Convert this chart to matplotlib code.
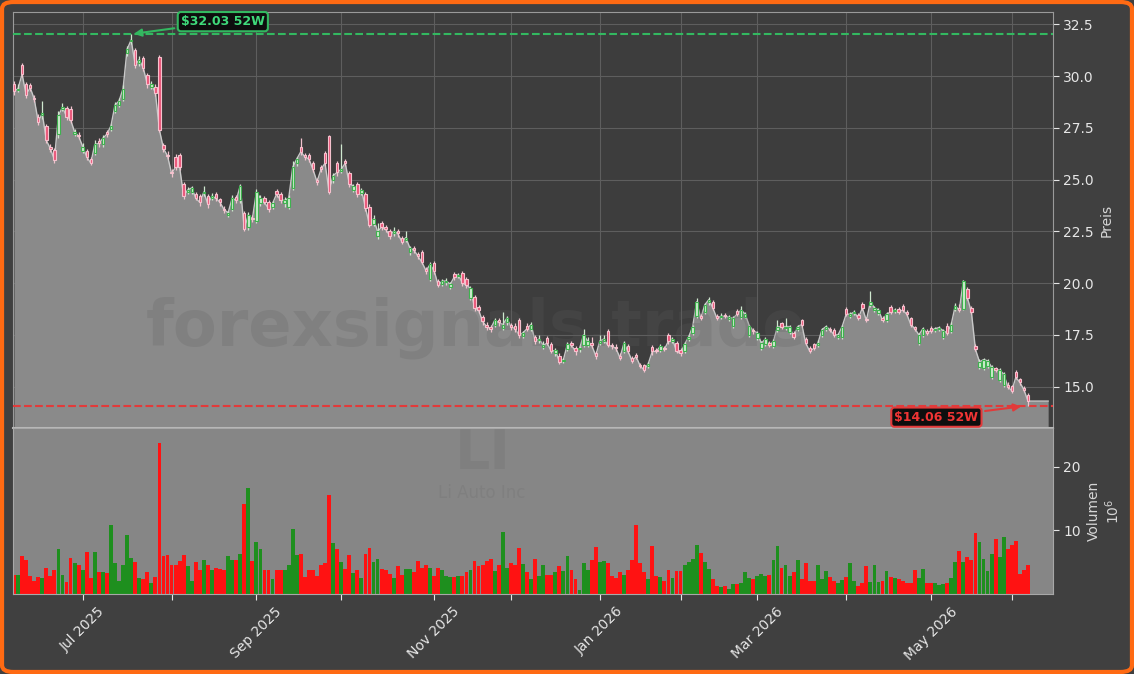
import numpy as np
import pandas as pd
import matplotlib
matplotlib.use("Agg")
import matplotlib.pyplot as plt
from matplotlib.patches import FancyBboxPatch
from matplotlib.ticker import MultipleLocator, FormatStrFormatter, MaxNLocator, FixedLocator, FixedFormatter

# LI (Li Auto Inc) - daily candles, ~1 year
opens = [29.6, 29.35, 30.55, 29.6, 29.55, 28.95, 28.05, 28.1, 27.6, 26.6,
         26.45, 27.2, 28.4, 28.45, 28.4, 27.2, 27.15, 26.4, 26.4, 26.0,
         26.3, 26.85, 26.7, 27.3, 27.45, 28.3, 28.6, 28.9, 31.1, 31.7,
         31.26, 30.65, 30.86, 30.06, 29.5, 29.5, 30.94, 26.65, 26.2, 25.35,
         26.1, 26.2, 24.8, 24.4, 24.4, 24.3, 24.2, 24.35, 24.2, 24.1,
         24.3, 24.05, 23.6, 23.3, 23.6, 24.15, 24.0, 23.4, 22.7, 23.15,
         23.0, 23.85, 24.1, 23.9, 23.7, 24.45, 24.3, 23.85, 23.7, 24.6,
         25.8, 26.6, 26.2, 26.2, 25.8, 25.0, 25.6, 26.3, 27.1, 24.98,
         25.8, 25.4, 25.9, 25.3, 24.5, 24.8, 24.35, 24.3, 23.7, 22.85,
         22.3, 22.9, 22.7, 22.5, 22.4, 22.5, 22.2, 22.1, 21.5, 21.7,
         21.4, 21.5, 20.7, 20.2, 20.95, 20.1, 19.95, 20.05, 19.8, 20.45,
         20.35, 20.5, 20.2, 19.3, 19.35, 18.85, 18.35, 18.0, 17.9, 18.0,
         18.2, 17.85, 18.1, 18.0, 17.95, 18.2, 17.45, 17.95, 17.8, 17.4,
         17.25, 16.9, 17.35, 17.05, 16.6, 16.5, 16.25, 16.8, 17.1, 16.85,
         16.8, 17.0, 17.0, 17.1, 16.6, 17.1, 17.2, 17.7, 17.0, 16.9,
         16.5, 16.7, 16.95, 16.4, 16.55, 16.05, 16.05, 16.0, 16.9, 16.75,
         16.75, 16.85, 17.5, 17.2, 17.1, 16.75, 16.7, 17.3, 17.6, 18.4,
         18.4, 18.6, 19.1, 19.1, 18.4, 18.35, 18.45, 18.25, 17.95, 18.65,
         18.35, 18.35, 17.5, 17.75, 17.35, 16.85, 17.05, 17.1, 16.95, 17.75,
         18.05, 17.85, 17.65, 17.6, 17.8, 18.2, 17.3, 16.85, 17.05, 17.0,
         17.5, 17.8, 17.8, 17.75, 17.4, 17.4, 18.75, 18.4, 18.55, 18.45,
         19.0, 18.25, 18.95, 18.7, 18.55, 18.3, 18.2, 18.85, 18.65, 18.75,
         18.9, 18.6, 18.3, 17.9, 17.1, 17.5, 17.7, 17.85, 17.75, 17.8,
         17.4, 17.95, 17.7, 18.75, 18.8, 18.75, 19.7, 18.8, 16.95, 15.95,
         15.9, 16.0, 15.45, 15.9, 15.3, 15.1, 15.1, 15.05, 15.7, 15.35,
         14.95, 14.6]

highs = [29.75, 29.6, 30.65, 29.7, 29.65, 29.1, 28.15, 28.8, 27.7, 26.7,
         26.55, 28.3, 28.7, 28.55, 28.55, 27.45, 27.3, 26.75, 26.5, 26.1,
         26.9, 27.0, 27.15, 27.4, 27.7, 28.75, 28.95, 29.55, 31.45, 32.03,
         31.35, 30.95, 30.95, 30.15, 29.75, 29.6, 31.0, 26.75, 26.4, 25.5,
         26.25, 26.3, 24.9, 24.65, 24.7, 24.4, 24.3, 24.7, 24.3, 24.35,
         24.4, 24.1, 23.75, 23.5, 24.25, 24.25, 24.8, 23.5, 23.45, 23.3,
         24.55, 24.25, 24.2, 24.0, 23.95, 24.55, 24.4, 24.15, 24.25, 25.9,
         26.1, 27.0, 26.3, 26.3, 25.9, 25.1, 25.7, 26.4, 27.15, 25.3,
         25.9, 26.7, 26.0, 25.4, 24.8, 24.9, 24.6, 24.4, 23.8, 23.3,
         22.9, 23.0, 22.8, 22.6, 22.7, 22.6, 22.3, 22.5, 21.8, 21.8,
         21.5, 21.6, 20.8, 21.0, 21.05, 20.2, 20.2, 20.25, 20.05, 20.55,
         20.5, 20.6, 20.3, 19.85, 19.45, 18.95, 18.45, 18.1, 18.0, 18.3,
         18.3, 18.6, 18.4, 18.05, 18.05, 18.3, 17.7, 18.05, 18.1, 17.5,
         17.5, 17.2, 17.45, 17.15, 16.85, 16.6, 16.4, 17.15, 17.2, 16.95,
         16.95, 17.8, 17.4, 17.4, 16.7, 17.5, 17.5, 17.8, 17.1, 17.05,
         16.6, 17.2, 17.05, 16.5, 16.6, 16.15, 16.1, 16.2, 17.0, 16.85,
         17.05, 16.95, 17.6, 17.4, 17.2, 16.85, 17.15, 17.5, 18.0, 19.3,
         18.5, 19.05, 19.35, 19.2, 18.5, 18.55, 18.55, 18.45, 18.4, 18.75,
         18.9, 18.6, 18.0, 17.85, 17.7, 17.2, 17.4, 17.2, 17.3, 18.2,
         18.1, 18.3, 18.0, 17.7, 18.0, 18.25, 17.4, 16.95, 17.1, 17.25,
         17.85, 18.0, 17.9, 17.85, 17.6, 18.0, 18.85, 18.6, 18.7, 18.55,
         19.1, 18.35, 19.6, 18.9, 18.8, 18.4, 18.6, 18.95, 18.8, 18.85,
         19.0, 18.7, 18.35, 17.95, 17.6, 17.9, 17.8, 17.95, 17.9, 17.95,
         17.8, 18.05, 18.1, 19.05, 19.0, 20.15, 19.8, 18.9, 17.05, 16.35,
         16.4, 16.35, 16.05, 15.95, 15.9, 15.7, 15.2, 15.1, 15.8, 15.4,
         15.05, 14.7]

lows = [29.1, 29.25, 29.95, 28.95, 29.3, 28.75, 27.65, 27.95, 26.75, 26.35,
        25.8, 27.0, 28.3, 27.9, 27.75, 27.1, 26.95, 26.3, 25.95, 25.7,
        26.2, 26.6, 26.6, 27.05, 27.35, 28.2, 28.5, 28.8, 30.95, 31.55,
        30.4, 30.5, 30.25, 29.45, 29.4, 29.05, 27.3, 26.35, 26.0, 25.15,
        25.45, 25.45, 24.05, 24.3, 24.3, 24.0, 23.75, 24.2, 23.65, 24.0,
        23.95, 23.75, 23.4, 23.2, 23.5, 23.85, 23.85, 22.5, 22.55, 22.95,
        22.9, 23.75, 23.8, 23.45, 23.6, 24.15, 23.85, 23.7, 23.6, 24.5,
        25.65, 26.2, 25.95, 25.85, 25.35, 24.75, 25.35, 25.65, 24.3, 24.85,
        25.2, 25.3, 25.65, 24.65, 24.4, 24.15, 24.25, 23.5, 22.7, 22.75,
        22.15, 22.55, 22.45, 22.15, 22.3, 22.25, 21.9, 22.0, 21.35, 21.45,
        21.15, 20.9, 20.45, 20.1, 20.45, 19.8, 19.85, 19.9, 19.7, 20.15,
        20.25, 19.85, 19.75, 19.2, 18.65, 18.55, 18.0, 17.75, 17.65, 17.9,
        17.95, 17.75, 18.0, 17.75, 17.65, 17.35, 17.35, 17.7, 17.7, 17.05,
        17.1, 16.8, 17.0, 16.6, 16.5, 16.1, 16.15, 16.7, 16.9, 16.55,
        16.65, 16.9, 16.9, 16.85, 16.35, 17.0, 17.1, 16.9, 16.8, 16.7,
        16.3, 16.6, 16.6, 16.15, 16.35, 15.9, 15.7, 15.9, 16.55, 16.6,
        16.65, 16.7, 17.05, 17.1, 16.6, 16.5, 16.6, 17.2, 17.5, 18.3,
        18.2, 18.5, 18.95, 18.7, 18.2, 18.25, 18.3, 18.15, 17.85, 18.4,
        18.25, 18.3, 17.4, 17.55, 17.25, 16.75, 16.95, 16.9, 16.85, 17.65,
        17.8, 17.75, 17.55, 17.3, 17.7, 17.9, 17.0, 16.6, 16.75, 16.9,
        17.4, 17.7, 17.65, 17.4, 17.3, 17.3, 18.4, 18.3, 18.45, 18.2,
        18.7, 18.1, 18.85, 18.6, 18.45, 18.1, 18.1, 18.5, 18.55, 18.5,
        18.6, 18.4, 17.9, 17.7, 17.0, 17.4, 17.5, 17.6, 17.65, 17.7,
        17.3, 17.5, 17.6, 18.65, 18.6, 18.7, 19.2, 18.5, 16.7, 15.85,
        15.8, 15.9, 15.35, 15.7, 15.2, 15.0, 14.9, 14.7, 15.35, 15.1,
        14.75, 14.06]

closes = [29.26, 29.4, 30.1, 29.1, 29.45, 28.9, 27.8, 28.2, 26.9, 26.5,
          25.96, 28.1, 28.5, 28.05, 27.9, 27.3, 27.1, 26.6, 26.1, 25.8,
          26.7, 26.75, 27.0, 27.2, 27.6, 28.6, 28.8, 29.4, 31.3, 31.75,
          30.54, 30.8, 30.4, 29.6, 29.6, 29.2, 27.4, 26.5, 26.15, 25.3,
          25.6, 25.6, 24.2, 24.5, 24.6, 24.1, 23.9, 24.4, 23.8, 24.2,
          24.1, 23.9, 23.55, 23.4, 24.1, 24.0, 24.7, 22.6, 23.3, 23.1,
          24.4, 24.1, 23.9, 23.6, 23.85, 24.3, 24.0, 24.0, 24.1, 25.6,
          26.0, 26.35, 26.1, 26.0, 25.5, 24.9, 25.5, 25.8, 24.4, 25.2,
          25.35, 25.5, 25.8, 24.8, 24.7, 24.3, 24.5, 23.65, 22.8, 23.1,
          22.5, 22.7, 22.6, 22.3, 22.5, 22.4, 22.0, 22.2, 21.7, 21.6,
          21.3, 21.0, 20.6, 20.9, 20.6, 19.9, 20.1, 20.1, 19.95, 20.3,
          20.4, 20.0, 19.9, 19.75, 18.8, 18.7, 18.15, 17.9, 17.8, 18.2,
          18.1, 18.0, 18.3, 17.9, 17.8, 17.5, 17.6, 17.8, 18.0, 17.2,
          17.3, 17.0, 17.1, 16.7, 16.75, 16.2, 16.3, 17.05, 17.0, 16.7,
          16.85, 17.5, 17.2, 17.0, 16.5, 17.2, 17.3, 17.0, 16.95, 16.85,
          16.4, 17.1, 16.7, 16.25, 16.45, 16.0, 15.8, 16.1, 16.7, 16.7,
          16.95, 16.8, 17.2, 17.3, 16.7, 16.6, 17.05, 17.4, 17.9, 19.1,
          18.3, 18.95, 19.2, 18.8, 18.3, 18.4, 18.4, 18.35, 18.3, 18.5,
          18.7, 18.5, 17.95, 17.7, 17.6, 17.1, 17.3, 17.0, 17.2, 17.9,
          17.9, 17.9, 17.9, 17.4, 17.9, 18.0, 17.1, 16.7, 16.85, 17.1,
          17.75, 17.9, 17.75, 17.5, 17.5, 17.9, 18.5, 18.5, 18.6, 18.3,
          18.8, 18.2, 19.1, 18.8, 18.7, 18.2, 18.5, 18.6, 18.7, 18.6,
          18.7, 18.5, 18.0, 17.8, 17.5, 17.8, 17.6, 17.7, 17.8, 17.85,
          17.7, 17.6, 18.0, 18.9, 18.7, 20.1, 19.3, 18.6, 16.8, 16.2,
          16.3, 16.25, 15.95, 15.8, 15.8, 15.6, 15.0, 14.8, 15.45, 15.2,
          14.85, 14.3]

# volume in millions
volumes = [3.05, 3.05, 6.0, 5.4, 2.8, 2.1, 2.7, 2.5, 4.1, 2.8,
           3.7, 7.0, 3.05, 1.85, 5.65, 4.8, 4.6, 3.8, 6.6, 2.5,
           6.6, 3.4, 3.5, 3.3, 10.9, 4.8, 2.0, 4.6, 9.2, 5.65,
           5.1, 2.5, 2.3, 3.5, 1.75, 2.7, 23.7, 5.9, 6.2, 4.6,
           4.5, 5.2, 6.2, 4.35, 2.1, 5.1, 3.8, 5.4, 4.6, 3.7,
           4.1, 4.0, 3.7, 6.0, 5.3, 5.3, 6.3, 14.2, 16.7, 5.2,
           8.15, 7.0, 3.7, 3.8, 2.3, 3.8, 3.8, 3.8, 4.5, 10.2,
           6.2, 6.3, 2.7, 3.7, 3.8, 2.8, 4.6, 4.8, 15.6, 8.0,
           7.1, 5.1, 4.0, 6.2, 3.3, 3.7, 2.5, 6.3, 7.3, 5.1,
           5.5, 4.0, 3.7, 3.15, 2.5, 4.35, 3.0, 4.0, 4.0, 3.4,
           5.2, 4.1, 4.6, 4.1, 2.8, 4.1, 3.7, 2.9, 2.6, 2.7,
           2.9, 2.8, 3.4, 3.7, 5.2, 4.35, 4.6, 5.2, 5.5, 3.56,
           4.6, 9.7, 4.1, 4.8, 4.6, 7.3, 4.77, 3.4, 2.3, 5.5,
           2.8, 4.6, 3.05, 3.05, 3.4, 4.45, 3.6, 6.0, 3.7, 2.4,
           0.7, 4.8, 3.7, 5.4, 7.4, 5.1, 5.2, 4.8, 2.9, 2.5,
           3.5, 3.05, 3.8, 5.4, 10.9, 4.8, 3.4, 2.4, 7.5, 2.8,
           2.6, 2.0, 3.8, 2.5, 3.56, 3.56, 4.6, 5.1, 5.5, 7.7,
           6.4, 5.1, 3.9, 2.4, 1.2, 1.07, 1.2, 0.86, 1.6, 1.6,
           1.75, 3.5, 2.5, 2.3, 2.9, 3.15, 2.8, 3.0, 5.4, 7.5,
           4.1, 4.6, 2.9, 3.5, 5.4, 2.3, 4.8, 2.0, 2.0, 4.6,
           2.3, 3.6, 2.7, 2.0, 1.8, 2.2, 2.6, 4.8, 2.0, 1.2,
           1.7, 4.4, 1.9, 4.6, 1.9, 2.0, 3.6, 2.7, 2.5, 2.3,
           2.0, 1.8, 1.7, 3.7, 2.5, 3.9, 1.8, 1.7, 1.8, 1.4,
           1.6, 1.7, 2.5, 5.0, 6.7, 5.1, 5.75, 5.3, 9.6, 8.2,
           5.5, 3.6, 6.3, 8.7, 5.75, 9.0, 7.1, 7.7, 8.4, 3.2,
           3.8, 4.6]

start_date = "2025-06-05"
end_date = "2026-06-05"
market_holidays = ["2025-06-19", "2025-07-04", "2025-09-01", "2025-11-27", "2025-12-25",
                   "2026-01-01", "2026-01-19", "2026-02-16", "2026-04-03", "2026-05-25"]

ticker = "LI"
company = "Li Auto Inc"
watermark = "forexsignals.trade"

BG = "#404040"
AX_BG = "#3d3d3d"
FILL = "#8a8a8a"
VOL_BG = "#868686"
TXT = "#e6e6e6"
UP_FACE, UP_EDGE, UP_WICK = "#cdeccd", "#3fb24f", "#cfe8cf"
DN_FACE, DN_EDGE, DN_WICK = "#ea5679", "#f5c2ce", "#f1c3ce"
HI_COL = "#33b860"
LO_COL = "#e23a3a"

dates = pd.bdate_range(start_date, end_date)
dates = dates[~dates.isin(pd.to_datetime(market_holidays))]
o = np.array(opens); h = np.array(highs); l = np.array(lows); c = np.array(closes)
v = np.array(volumes)
n = len(c)
x = np.arange(n)

fig = plt.figure(figsize=(11.34, 6.74), dpi=100, facecolor=BG)
W, H = 1134, 674
ax = fig.add_axes([13 / W, 1 - 428 / H, 1040 / W, 416 / H], facecolor=AX_BG)
axv = fig.add_axes([13 / W, 1 - 594 / H, 1040 / W, 166 / H], facecolor=VOL_BG, sharex=ax)

# area under close (runs a few bars past the last one)
xf = np.r_[x, n - 1 + 5]
yf = np.r_[c, c[-1]]
ax.fill_between(xf, yf, 0, color=FILL, lw=0, zorder=1)
ax.plot(xf, yf, color="#c9c9c9", lw=1.0, zorder=2)

# candles
up = c >= o
for i in range(n):
    wick = UP_WICK if up[i] else DN_WICK
    ax.vlines(x[i], l[i], h[i], color=wick, lw=0.9, zorder=4)
body_lo = np.minimum(o, c)
body_h = np.maximum(np.abs(c - o), 0.05)
ax.bar(x[up], body_h[up], bottom=body_lo[up], width=0.6, color=UP_FACE,
       edgecolor=UP_EDGE, linewidth=0.8, zorder=5)
ax.bar(x[~up], body_h[~up], bottom=body_lo[~up], width=0.6, color=DN_FACE,
       edgecolor=DN_EDGE, linewidth=0.8, zorder=5)

# 52W high / low
i_hi = int(np.argmax(h)); hi = h[i_hi]
i_lo = int(np.argmin(l)); lo = l[i_lo]
ax.axhline(hi, color=HI_COL, ls="--", lw=1.5, zorder=3)
ax.axhline(lo, color=LO_COL, ls="--", lw=1.5, zorder=3)
ax.annotate(f"${hi:.2f} 52W", xy=(i_hi, hi), xytext=(66, 9), textcoords="offset points",
            color="#3fd97a", fontsize=9, fontweight="bold", ha="center", va="center", zorder=7,
            bbox=dict(boxstyle="round,pad=0.25", fc="#0e0e0e", ec=HI_COL, lw=1.5),
            arrowprops=dict(arrowstyle="-|>", color=HI_COL, lw=1.5, mutation_scale=11))
ax.annotate(f"${lo:.2f} 52W", xy=(i_lo - 1, lo), xytext=(-63, -8), textcoords="offset points",
            color="#f03434", fontsize=9, fontweight="bold", ha="center", va="center", zorder=7,
            bbox=dict(boxstyle="round,pad=0.25", fc="#0e0e0e", ec=LO_COL, lw=1.5),
            arrowprops=dict(arrowstyle="-|>", color=LO_COL, lw=1.5, mutation_scale=11))

# watermarks
ax.text(0.42, 0.513, watermark, transform=fig.transFigure, fontsize=46, fontweight="bold",
        color="#5d5d5d", alpha=0.22, ha="center", va="center", zorder=2.5)
axv.text(0.426, 0.327, ticker, transform=fig.transFigure, fontsize=40, fontweight="bold",
         color="#5d5d5d", alpha=0.16, ha="center", va="center", zorder=0.5)
axv.text(0.425, 0.268, company, transform=fig.transFigure, fontsize=12,
         color="#5d5d5d", alpha=0.16, ha="center", va="center", zorder=0.5)

# volume
vol_cols = np.where(up, "#1e8f1e", "#ff1212")
axv.bar(x, v, width=0.95, color=vol_cols, lw=0, zorder=2)
axv.set_ylim(0, v.max() * 1.1)
axv.yaxis.set_major_locator(MaxNLocator(nbins=3, prune="lower"))

# axes styling
ax.set_xlim(-0.25, 257.2)
ax.set_ylim(13.0, 33.1)
ax.yaxis.set_major_locator(MultipleLocator(2.5))
ax.yaxis.set_major_formatter(FormatStrFormatter("%.1f"))
for a in (ax, axv):
    a.yaxis.tick_right()
    a.yaxis.set_label_position("right")
    a.tick_params(axis="y", colors=TXT, labelsize=10, length=4, direction="out")
ax.set_ylabel("Preis", color="#d6d6d6", fontsize=10)
axv.set_ylabel("Volumen\n$10^6$", color="#d6d6d6", fontsize=10)

month_start = np.where(dates.month[1:] != dates.month[:-1])[0] + 1
labels = [d.strftime("%b %Y") if d.month % 2 == 1 else "" for d in dates[month_start]]
axv.xaxis.set_major_locator(FixedLocator(month_start))
axv.xaxis.set_major_formatter(FixedFormatter(labels))
axv.tick_params(axis="x", colors=TXT, labelsize=10, length=4, rotation=45)
ax.tick_params(axis="x", labelbottom=False, length=0)

ax.set_axisbelow(True)
ax.grid(True, color="#5e5e5e", lw=0.8)
for s in ax.spines.values():
    s.set_color("#9a9a9a")
for s in axv.spines.values():
    s.set_color("#a8a8a8")
ax.spines["bottom"].set_color("#b8b8b8")
ax.spines["bottom"].set_linewidth(1.5)

# orange frame
fig.patches.append(FancyBboxPatch((0.0018, 0.003), 0.9964, 0.994,
                                  boxstyle="round,pad=0,rounding_size=0.01",
                                  transform=fig.transFigure, fill=False,
                                  edgecolor="#ff6a13", linewidth=3, figure=fig))

fig.savefig("out.png", dpi=100, facecolor=fig.get_facecolor())
